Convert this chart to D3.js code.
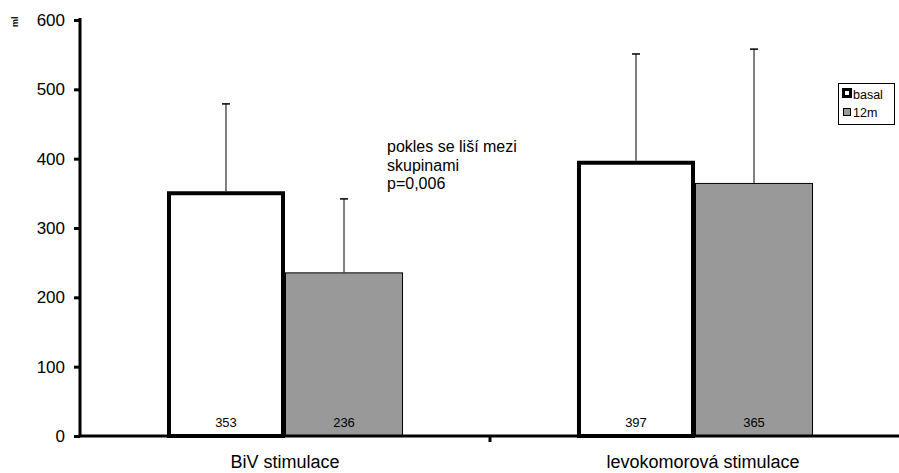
<!DOCTYPE html>
<html><head><meta charset="utf-8">
<script src="https://cdn.jsdelivr.net/npm/d3@7"></script>
<style>body{margin:0;background:#fff}svg{display:block;font-family:Arial,"Liberation Sans",sans-serif}</style>
</head><body><svg id="c" width="899" height="473"></svg>
<script>
const categories = ["BiV stimulace", "levokomorová stimulace"];
const seriesNames = ["basal", "12m"];
const basalValues = [353, 397];
const m12Values = [236, 365];
const basalSD = [126, 154];
const m12SD = [106, 193];
const yTicks = [0, 100, 200, 300, 400, 500, 600];
const annotation = ["pokles se liší mezi", "skupinami", "p=0,006"];

const svg = d3.select("#c");
const y = d3.scaleLinear().domain([0, 600]).range([436, 20]);
const x0 = d3.scaleBand().domain(categories).range([80, 900]).paddingInner(0).paddingOuter(0);
const x1 = d3.scaleBand().domain(seriesNames).range([0, x0.bandwidth()]).paddingInner(0).paddingOuter(0.737);

const data = categories.map((c, i) => ({
  cat: c,
  vals: [
    {s: "basal", v: basalValues[i], sd: basalSD[i]},
    {s: "12m", v: m12Values[i], sd: m12SD[i]}
  ]
}));

const g = svg.selectAll("g.grp").data(data).join("g")
  .attr("transform", d => `translate(${x0(d.cat)},0)`);

// error bars (upward)
g.selectAll("g.err").data(d => d.vals).join("g").each(function(d) {
  const cx = x1(d.s) + x1.bandwidth() / 2;
  const sel = d3.select(this);
  sel.append("line").attr("x1", cx).attr("x2", cx).attr("y1", y(d.v)).attr("y2", y(d.v + d.sd))
    .attr("stroke", "#000").attr("stroke-width", 1);
  sel.append("line").attr("x1", cx - 4).attr("x2", cx + 4).attr("y1", y(d.v + d.sd)).attr("y2", y(d.v + d.sd))
    .attr("stroke", "#000").attr("stroke-width", 1.5);
});

// bars
g.selectAll("rect.bar").data(d => d.vals).join("rect")
  .attr("x", d => x1(d.s) + (d.s === "basal" ? 2 : 0.5))
  .attr("width", d => x1.bandwidth() - (d.s === "basal" ? 4 : 1))
  .attr("y", d => y(d.v) + (d.s === "basal" ? 2 : 0.5))
  .attr("height", d => y(0) - y(d.v) - (d.s === "basal" ? 2 : 0.5))
  .attr("fill", d => d.s === "basal" ? "#fff" : "#999999")
  .attr("stroke", "#000")
  .attr("stroke-width", d => d.s === "basal" ? 4 : 1);

// value labels
g.selectAll("text.val").data(d => d.vals).join("text")
  .attr("x", d => x1(d.s) + x1.bandwidth() / 2)
  .attr("y", 427)
  .attr("text-anchor", "middle")
  .attr("font-size", 13)
  .attr("fill", "#000")
  .text(d => d.v);

// y axis
const yAxis = d3.axisLeft(y).tickValues(yTicks).tickSize(6).tickPadding(9);
const ya = svg.append("g").attr("transform", "translate(80,0)").call(yAxis);
ya.select(".domain").attr("stroke-width", 3).attr("d", `M0,${y(600)-2}V${y(0)}`);
ya.selectAll(".tick line").attr("stroke-width", 3);
ya.selectAll(".tick text").attr("font-size", 17).attr("fill", "#000").attr("font-family", "Arial, Liberation Sans, sans-serif");

// x axis
const xa = svg.append("g").attr("transform", `translate(0,${y(0)})`);
xa.append("line").attr("x1", 78.5).attr("x2", 900).attr("y1", 0).attr("y2", 0)
  .attr("stroke", "#000").attr("stroke-width", 3);
xa.append("line").attr("x1", x0(categories[1])).attr("x2", x0(categories[1])).attr("y1", 0).attr("y2", 6)
  .attr("stroke", "#000").attr("stroke-width", 3);
xa.selectAll("text.cat").data(categories).join("text")
  .attr("x", (d, i) => x0(d) + x0.bandwidth() / 2 + (i === 0 ? 0 : 8))
  .attr("y", 32)
  .attr("text-anchor", "middle")
  .attr("font-size", 18)
  .attr("fill", "#000")
  .text(d => d);

// y title
svg.append("text").attr("transform", "translate(18,27) rotate(-90)")
  .attr("font-size", 9).attr("font-weight", "bold").text("ml");

// annotation
svg.append("g").selectAll("text").data(annotation).join("text")
  .attr("x", 387).attr("y", (d, i) => 152 + i * 18.5)
  .attr("font-size", 16).attr("fill", "#000").text(d => d);

// legend
const lg = svg.append("g").attr("transform", "translate(838,83)");
lg.append("rect").attr("x", 0.5).attr("y", 0.5).attr("width", 56).attr("height", 41)
  .attr("fill", "#fff").attr("stroke", "#000").attr("stroke-width", 1);
lg.append("rect").attr("x", 4).attr("y", 5).attr("width", 10).attr("height", 10).attr("fill", "#000");
lg.append("rect").attr("x", 7).attr("y", 8).attr("width", 4).attr("height", 4).attr("fill", "#fff");
lg.append("rect").attr("x", 5.5).attr("y", 25.5).attr("width", 7).attr("height", 7).attr("fill", "#999999")
  .attr("stroke", "#000").attr("stroke-width", 1);
lg.selectAll("text").data(seriesNames).join("text")
  .attr("x", 15).attr("y", (d, i) => 16 + i * 18)
  .attr("font-size", 12.5).attr("fill", "#000").text(d => d);
</script></body></html>
